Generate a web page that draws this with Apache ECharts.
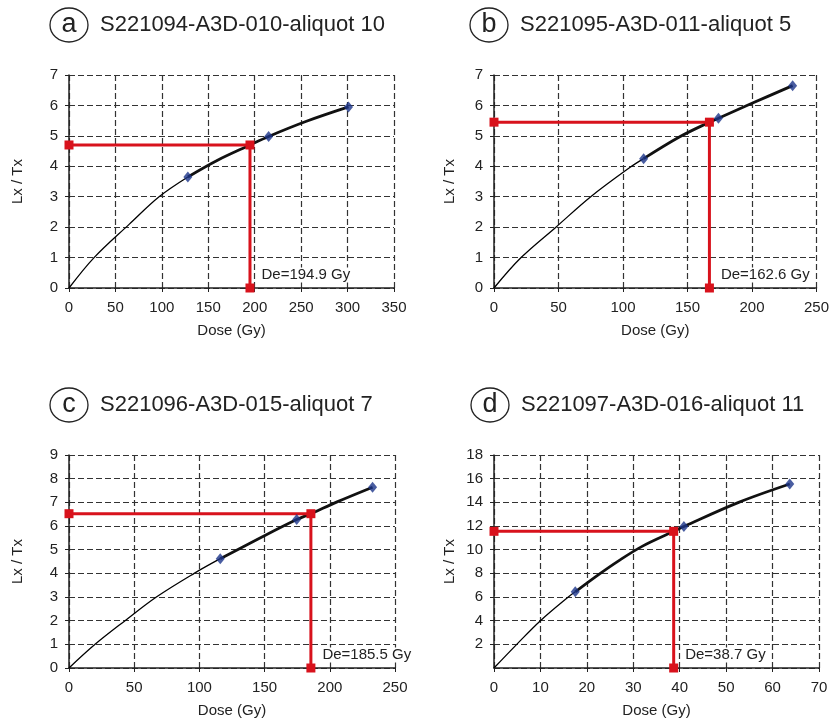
<!DOCTYPE html>
<html><head><meta charset="utf-8">
<script src="https://cdn.jsdelivr.net/npm/echarts@6/dist/echarts.min.js"></script>
<style>html,body{margin:0;padding:0;background:#fff}#c{width:832px;height:720px}</style>
</head><body><div id="c"></div>
<script>
// ---- data ----
const panelLetters = ['a', 'b', 'c', 'd'];
const panelTitles = ['S221094-A3D-010-aliquot 10', 'S221095-A3D-011-aliquot 5', 'S221096-A3D-015-aliquot 7', 'S221097-A3D-016-aliquot 11'];
const xMaxes = [350, 250, 250, 70];
const xSteps = [50, 50, 50, 10];
const yMaxes = [7, 7, 9, 18];
const ySteps = [1, 1, 1, 2];
const xAxisTitle = 'Dose (Gy)';
const yAxisTitle = 'Lx / Tx';

// measured points (Dose, Lx/Tx)
const pointsA = [[128, 3.65], [215, 4.98], [301, 5.95]];
const pointsB = [[116, 4.25], [174, 5.58], [231.5, 6.65]];
const pointsC = [[116, 4.62], [174.6, 6.27], [232.8, 7.64]];
const pointsD = [[17.5, 6.44], [40.9, 11.96], [63.7, 15.55]];

// fitted curve, thin part (origin to first point)
const fitThinA = [[0, 0], [27, 1], [65, 2.1], [97, 3], [128, 3.65]];
const fitThinB = [[0, 0], [21, 1], [48, 2], [75, 3], [105, 3.95], [116, 4.25]];
const fitThinC = [[0, 0], [20, 1], [43, 2], [67, 3], [96, 4], [116, 4.62]];
const fitThinD = [[0, 0], [4.9, 2], [10, 4], [16, 6], [17.5, 6.44]];

// fitted curve, thick part (through the points)
const fitThickA = [[128, 3.65], [160, 4.2], [194.9, 4.7], [215, 4.98], [255, 5.47], [301, 5.95]];
const fitThickB = [[116, 4.25], [144, 4.97], [167, 5.45], [174, 5.58], [200, 6.07], [231.5, 6.65]];
const fitThickC = [[116, 4.62], [145, 5.45], [174.6, 6.27], [185.5, 6.52], [205.6, 7.02], [232.8, 7.64]];
const fitThickD = [[17.5, 6.44], [22, 7.75], [27, 9.1], [32, 10.3], [38.7, 11.55], [40.9, 11.96], [52.7, 14], [63.7, 15.55]];

// equivalent dose projection
const deDose = [194.9, 167, 185.5, 38.7];
const deSignal = [4.7, 5.45, 6.52, 11.55];
const deLabels = ['De=194.9 Gy', 'De=162.6 Gy', 'De=185.5 Gy', 'De=38.7 Gy'];

const points = [pointsA, pointsB, pointsC, pointsD];
const fitThin = [fitThinA, fitThinB, fitThinC, fitThinD];
const fitThick = [fitThickA, fitThickB, fitThickC, fitThickD];

// ---- layout ----
const grids = [
  { left: 69, top: 75, width: 325, height: 213 },
  { left: 494, top: 75, width: 325, height: 213 },
  { left: 69, top: 455, width: 326, height: 213 },
  { left: 494, top: 455, width: 325, height: 213 }
];
const yNameGaps = [44, 37, 44, 37];
const titleCenters = [[69, 25], [489, 25], [69, 405], [490, 405]];

const FONT = 'Liberation Sans, Arial, sans-serif';
const TXT = '#222';
const RED = '#d8121c';
const BLUE = '#1c348a';
const GRIDC = '#333';

const xAxes = [], yAxes = [], series = [], graphics = [];
for (let i = 0; i < 4; i++) {
  xAxes.push({
    type: 'value', gridIndex: i, min: 0, max: xMaxes[i], interval: xSteps[i],
    name: xAxisTitle, nameLocation: 'middle', nameGap: 35,
    nameTextStyle: { fontFamily: FONT, fontSize: 15, color: TXT },
    axisLine: { show: true, lineStyle: { color: '#222', width: 1.5 } },
    axisTick: { show: true, length: 4, lineStyle: { color: '#222' } },
    axisLabel: { fontFamily: FONT, fontSize: 15, color: TXT, margin: 12 },
    splitLine: { show: true, lineStyle: { color: GRIDC, type: [6, 3], width: 1.2 } }
  });
  yAxes.push({
    type: 'value', gridIndex: i, min: 0, max: yMaxes[i], interval: ySteps[i],
    name: yAxisTitle, nameLocation: 'middle', nameGap: yNameGaps[i], nameRotate: 90,
    nameTextStyle: { fontFamily: FONT, fontSize: 15, color: TXT },
    axisLine: { show: true, lineStyle: { color: '#222', width: 1.5 } },
    axisTick: { show: true, length: 4, lineStyle: { color: '#222' } },
    axisLabel: { fontFamily: FONT, fontSize: 15, color: TXT, margin: 11, showMinLabel: i !== 3 },
    splitLine: { show: true, lineStyle: { color: GRIDC, type: [6, 3], width: 1.2 } }
  });
  series.push({
    type: 'line', xAxisIndex: i, yAxisIndex: i, data: fitThin[i], smooth: 0.35,
    showSymbol: false, symbol: 'none', lineStyle: { color: '#000', width: 1.3 }, z: 2, silent: true
  });
  series.push({
    type: 'line', xAxisIndex: i, yAxisIndex: i, data: fitThick[i], smooth: 0.35,
    showSymbol: false, symbol: 'none', lineStyle: { color: '#111', width: 2.8 }, z: 2, silent: true
  });
  series.push({
    type: 'line', xAxisIndex: i, yAxisIndex: i, clip: false,
    data: [
      [0, deSignal[i]],
      [deDose[i], deSignal[i]],
      { value: [deDose[i], 0], label: {
        show: true, position: 'right', distance: 5, offset: [0, -13],
        formatter: deLabels[i], fontFamily: FONT, fontSize: 15, color: TXT,
        backgroundColor: '#fff', padding: [0, 2]
      } }
    ],
    symbol: 'rect', symbolSize: 9, showSymbol: true,
    itemStyle: { color: RED }, lineStyle: { color: RED, width: 3 }, z: 3
  });
  series.push({
    type: 'scatter', xAxisIndex: i, yAxisIndex: i, data: points[i],
    symbol: 'diamond', symbolSize: [9, 11], itemStyle: { color: BLUE }, z: 4
  });
  const [cx, cy] = titleCenters[i];
  graphics.push({
    type: 'ellipse', shape: { cx: cx, cy: cy, rx: 19, ry: 17 },
    style: { fill: 'none', stroke: '#222', lineWidth: 1.3 }
  });
  graphics.push({
    type: 'text', x: cx, y: cy,
    style: { text: panelLetters[i], font: '27px ' + FONT, fill: TXT, textAlign: 'center', textVerticalAlign: 'middle' }
  });
  graphics.push({
    type: 'text', x: cx + 31, y: cy,
    style: { text: panelTitles[i], font: '22px ' + FONT, fill: TXT, textAlign: 'left', textVerticalAlign: 'middle' }
  });
}

const chart = echarts.init(document.getElementById('c'), null, { renderer: 'canvas' });
chart.setOption({
  animation: false,
  backgroundColor: '#fff',
  grid: grids,
  xAxis: xAxes,
  yAxis: yAxes,
  series: series,
  graphic: graphics
});
</script>
</body></html>
